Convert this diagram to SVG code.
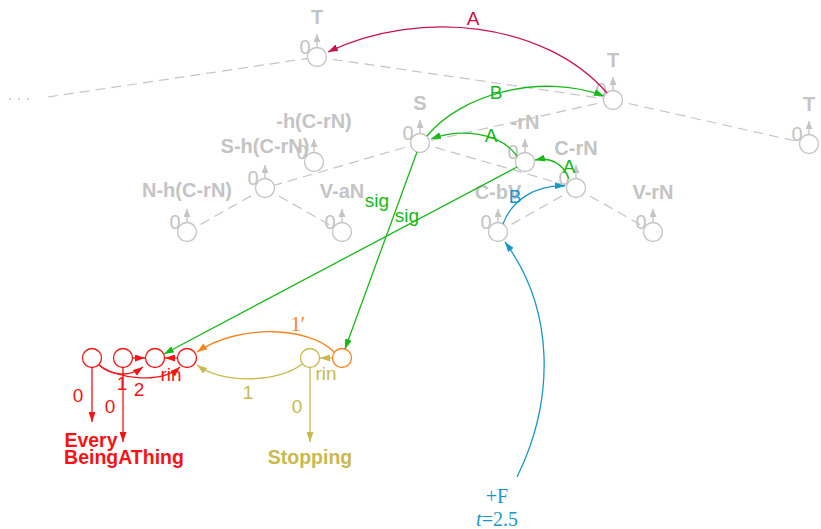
<svg xmlns="http://www.w3.org/2000/svg" width="821" height="529" viewBox="0 0 821 529">
<defs>
<marker id="ah-gray" markerWidth="8" markerHeight="7" refX="8" refY="3.5" orient="auto" markerUnits="userSpaceOnUse"><path d="M0,0 L8,3.5 L0,7 z" fill="#c4c4c4"/></marker>
<marker id="ah-crim" markerWidth="10" markerHeight="7" refX="10" refY="3.5" orient="auto" markerUnits="userSpaceOnUse"><path d="M0,0 L10,3.5 L0,7 z" fill="#c8124e"/></marker>
<marker id="ah-green" markerWidth="10" markerHeight="7" refX="10" refY="3.5" orient="auto" markerUnits="userSpaceOnUse"><path d="M0,0 L10,3.5 L0,7 z" fill="#17b817"/></marker>
<marker id="ah-blue" markerWidth="10" markerHeight="7" refX="10" refY="3.5" orient="auto" markerUnits="userSpaceOnUse"><path d="M0,0 L10,3.5 L0,7 z" fill="#1a96c8"/></marker>
<marker id="ah-red" markerWidth="10" markerHeight="7" refX="10" refY="3.5" orient="auto" markerUnits="userSpaceOnUse"><path d="M0,0 L10,3.5 L0,7 z" fill="#f51414"/></marker>
<marker id="ah-yel" markerWidth="10" markerHeight="7" refX="10" refY="3.5" orient="auto" markerUnits="userSpaceOnUse"><path d="M0,0 L10,3.5 L0,7 z" fill="#c9b94e"/></marker>
<marker id="ah-orng" markerWidth="10" markerHeight="7" refX="10" refY="3.5" orient="auto" markerUnits="userSpaceOnUse"><path d="M0,0 L10,3.5 L0,7 z" fill="#f7831e"/></marker>
</defs>
<style>
.dash{stroke:#c4c4c4;stroke-width:1.2;stroke-dasharray:10,6;fill:none}
.gn circle{fill:#fff;stroke:#c4c4c4;stroke-width:1.3}
.gn line{stroke:#c4c4c4;stroke-width:1.3;marker-end:url(#ah-gray)}
.glab{font-family:"Liberation Sans",Arial,sans-serif;font-weight:bold;font-size:20px;fill:#c4c4c4;text-anchor:middle}
.gz{font-family:"Liberation Sans",Arial,sans-serif;font-size:20px;fill:#c4c4c4;text-anchor:middle}
.e{fill:none;stroke-width:1.3}
.lab{font-family:"Liberation Sans",Arial,sans-serif;font-size:19px;text-anchor:middle}
.blab{font-family:"Liberation Sans",Arial,sans-serif;font-weight:bold;font-size:19.5px;text-anchor:middle}
.ser{font-family:"Liberation Serif","DejaVu Serif",serif;font-size:20px;text-anchor:middle}
.crim{stroke:#c8124e}.green{stroke:#17b817}.blue{stroke:#1a96c8}.red{stroke:#f51414}.yel{stroke:#c9b94e}.orng{stroke:#f7831e}
.bn circle{fill:none;stroke-width:1.3}
</style>

<g id="tree-edges">
<circle cx="10" cy="99" r="1" fill="#c4c4c4"/>
<circle cx="19" cy="99" r="1" fill="#c4c4c4"/>
<circle cx="28" cy="99" r="1" fill="#c4c4c4"/>
<path class="dash" d="M48,97 L317,57"/>
<path class="dash" d="M317,57 L613,100"/>
<path class="dash" d="M613,100 L809,144"/>
<path class="dash" d="M613,100 L420,143"/>
<path class="dash" d="M420,143 L265,188"/>
<path class="dash" d="M420,143 L576,188"/>
<path class="dash" d="M265,188 L187,232"/>
<path class="dash" d="M265,188 L342,232"/>
<path class="dash" d="M576,188 L498,232"/>
<path class="dash" d="M576,188 L653,232"/>
</g>

<g id="node-T1" class="gn" transform="translate(317,57)"><circle r="9.5"/><line x1="0" y1="-10" x2="0" y2="-23"/><text class="gz" x="-12" y="-3">0</text><text class="glab" x="0" y="-33">T</text></g>
<g id="node-T2" class="gn" transform="translate(613,100)"><circle r="9.5"/><line x1="0" y1="-10" x2="0" y2="-23"/><text class="gz" x="-12" y="-3">0</text><text class="glab" x="0" y="-33">T</text></g>
<g id="node-T3" class="gn" transform="translate(809,144)"><circle r="9.5"/><line x1="0" y1="-10" x2="0" y2="-23"/><text class="gz" x="-12" y="-3">0</text><text class="glab" x="0" y="-33">T</text></g>
<g id="node-S" class="gn" transform="translate(420,143)"><circle r="9.5"/><line x1="0" y1="-10" x2="0" y2="-23"/><text class="gz" x="-12" y="-3">0</text><text class="glab" x="0" y="-33">S</text></g>
<g id="node-rN" class="gn" transform="translate(525,162)"><circle r="9.5"/><line x1="0" y1="-10" x2="0" y2="-23"/><text class="gz" x="-12" y="-3">0</text><text class="glab" x="0" y="-33">-rN</text></g>
<g id="node-CrN" class="gn" transform="translate(576,188)"><circle r="9.5"/><line x1="0" y1="-10" x2="0" y2="-23"/><text class="gz" x="-12" y="-3">0</text><text class="glab" x="0" y="-33">C-rN</text></g>
<g id="node-CbV" class="gn" transform="translate(498,232)"><circle r="9.5"/><line x1="0" y1="-10" x2="0" y2="-23"/><text class="gz" x="-12" y="-3">0</text><text class="glab" x="0" y="-33">C-bV</text></g>
<g id="node-VrN" class="gn" transform="translate(653,232)"><circle r="9.5"/><line x1="0" y1="-10" x2="0" y2="-23"/><text class="gz" x="-12" y="-3">0</text><text class="glab" x="0" y="-33">V-rN</text></g>
<g id="node-ShCrN" class="gn" transform="translate(265,188)"><circle r="9.5"/><line x1="0" y1="-10" x2="0" y2="-23"/><text class="gz" x="-12" y="-3">0</text><text class="glab" x="0" y="-35">S-h(C-rN)</text></g>
<g id="node-hCrN" class="gn" transform="translate(314,162)"><circle r="9.5"/><line x1="0" y1="-10" x2="0" y2="-23"/><text class="gz" x="-12" y="-3">0</text><text class="glab" x="0" y="-34">-h(C-rN)</text></g>
<g id="node-NhCrN" class="gn" transform="translate(187,232)"><circle r="9.5"/><line x1="0" y1="-10" x2="0" y2="-23"/><text class="gz" x="-12" y="-3">0</text><text class="glab" x="0" y="-35">N-h(C-rN)</text></g>
<g id="node-VaN" class="gn" transform="translate(342,232)"><circle r="9.5"/><line x1="0" y1="-10" x2="0" y2="-23"/><text class="gz" x="-12" y="-3">0</text><text class="glab" x="0" y="-34">V-aN</text></g>

<g id="node-n1" class="bn"><circle cx="92" cy="358" r="9.5" stroke="#f51414"/></g>
<g id="node-n2" class="bn"><circle cx="123" cy="358" r="9.5" stroke="#f51414"/></g>
<g id="node-n3" class="bn"><circle cx="155" cy="358" r="9.5" stroke="#f51414"/></g>
<g id="node-n4" class="bn"><circle cx="187" cy="358" r="9.5" stroke="#f51414"/></g>
<g id="node-yel" class="bn"><circle cx="310" cy="358" r="9.5" stroke="#c9b94e"/></g>
<g id="node-orng" class="bn"><circle cx="342" cy="358" r="9.5" stroke="#f7831e"/></g>
<g id="node-Every"><text class="blab" x="91" y="447" fill="#f51414">Every</text></g>
<g id="node-BeingAThing"><text class="blab" x="124" y="464" fill="#f51414">BeingAThing</text></g>
<g id="node-Stopping"><text class="blab" x="310" y="464" fill="#c9b94e">Stopping</text></g>
<g id="node-F"><text class="ser" x="497" y="503" fill="#1a96c8">+F</text><text class="ser" x="497" y="526" fill="#1a96c8"><tspan font-style="italic">t</tspan>=2.5</text></g>

<g id="connectors">
<path class="e crim" d="M607,93 C545,22 420,8 328,52" marker-end="url(#ah-crim)"/>
<text class="lab" x="473" y="25" fill="#c8124e" font-size="20">A</text>
<path class="e green" d="M427,136 C460,95 540,72 604,96" marker-end="url(#ah-green)"/>
<text class="lab" x="496" y="99" fill="#17b817" font-size="20">B</text>
<path class="e green" d="M517,156 C500,132 460,128 431,139" marker-end="url(#ah-green)"/>
<text class="lab" x="491" y="142" fill="#17b817" font-size="20">A</text>
<path class="e green" d="M569,179 C563,163 550,157 535,160" marker-end="url(#ah-green)"/>
<text class="lab" x="569" y="173" fill="#17b817" font-size="20">A</text>
<path class="e blue" d="M503,224 C512,200 535,185 565,186" marker-end="url(#ah-blue)"/>
<text class="lab" x="515" y="203" fill="#1a96c8" font-size="20">B</text>
<path class="e blue" d="M517,477 C555,400 555,310 505,242" marker-end="url(#ah-blue)"/>
<path class="e green" d="M417,152 L345,349" marker-end="url(#ah-green)"/>
<text class="lab" x="407" y="222" fill="#17b817" font-size="20">sig</text>
<path class="e green" d="M517,167 L164,354" marker-end="url(#ah-green)"/>
<text class="lab" x="377" y="207" fill="#17b817" font-size="20">sig</text>

<path class="e red" d="M92,368 L92,422" marker-end="url(#ah-red)"/>
<text class="lab" x="78" y="402" fill="#f51414">0</text>
<path class="e red" d="M123,368 L123,442" marker-end="url(#ah-red)"/>
<text class="lab" x="110" y="413" fill="#f51414">0</text>
<path class="e red" d="M133,358 L145,358" marker-end="url(#ah-red)"/>
<path class="e red" d="M177,358 L165,358" marker-end="url(#ah-red)"/>
<path class="e red" d="M99,365 C110,375 128,378 143,367" marker-end="url(#ah-red)"/>
<path class="e red" d="M99,365 C115,378 160,385 180,367" marker-end="url(#ah-red)"/>
<text class="lab" x="122" y="390" fill="#f51414">1</text>
<text class="lab" x="139" y="396" fill="#f51414">2</text>
<text class="lab" x="171" y="381" fill="#f51414">rin</text>

<path class="e orng" d="M334,352 C310,327 240,323 197,352" marker-end="url(#ah-orng)"/>
<text class="ser" x="298" y="331" fill="#f7831e">1′</text>
<path class="e yel" d="M302,364 C280,382 225,385 197,365" marker-end="url(#ah-yel)"/>
<text class="lab" x="248" y="399" fill="#c9b94e">1</text>
<path class="e yel" d="M332,358 L320,358" marker-end="url(#ah-yel)"/>
<text class="lab" x="326" y="380" fill="#c9b94e">rin</text>
<path class="e yel" d="M310,368 L310,442" marker-end="url(#ah-yel)"/>
<text class="lab" x="297" y="413" fill="#c9b94e">0</text>
</g>
</svg>
